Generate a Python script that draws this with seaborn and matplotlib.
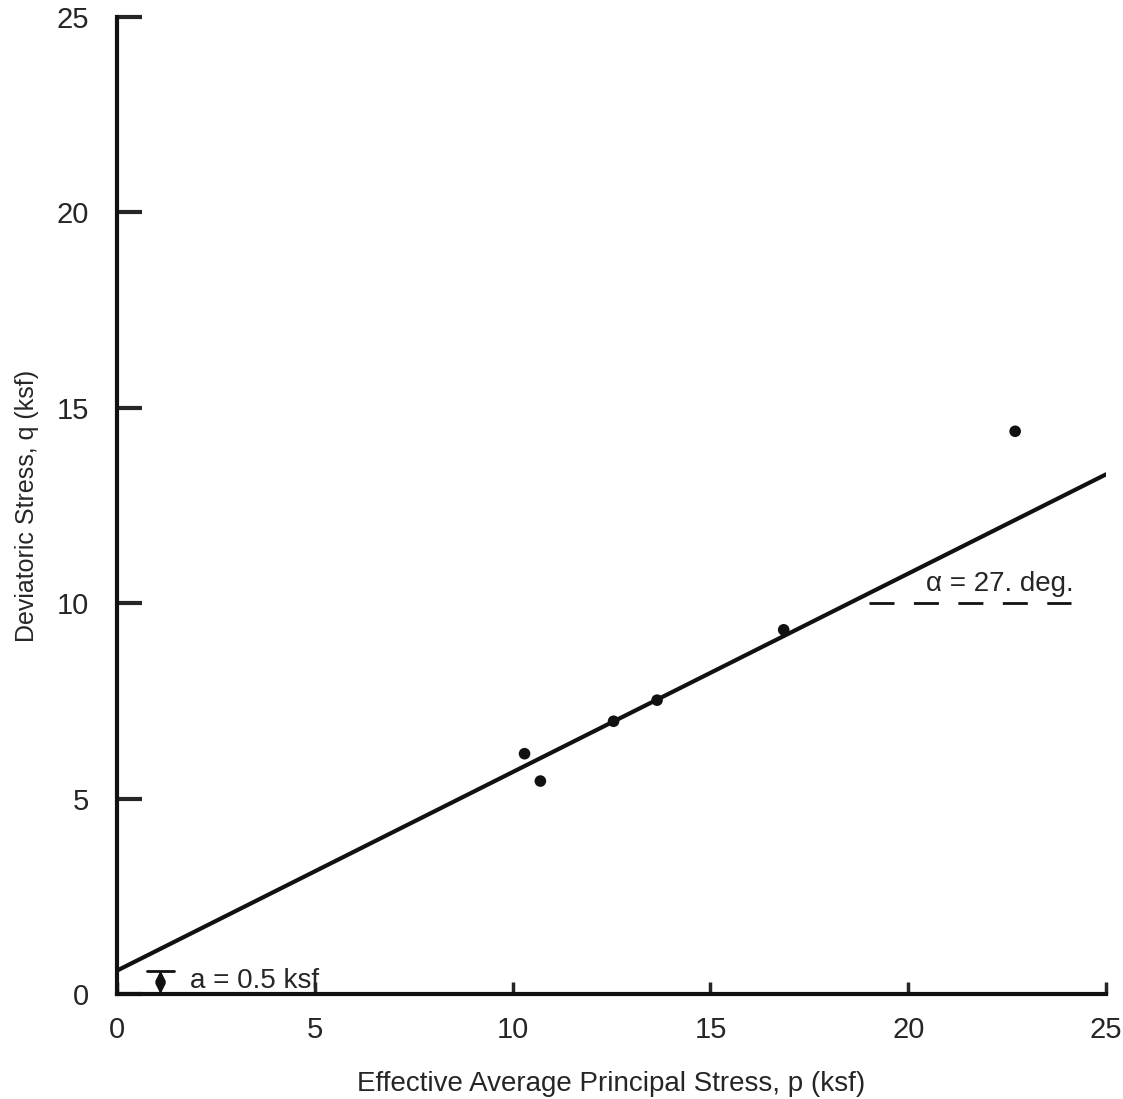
import numpy as np
import pandas as pd
import seaborn as sns
import matplotlib.pyplot as plt

# measured points (p, q) in ksf
p_vals = [10.3, 10.7, 12.55, 13.65, 16.85, 22.7]
q_vals = [6.15, 5.45, 6.98, 7.52, 9.32, 14.4]

# failure envelope: q = a + p * tan(alpha)
fit_p = [0, 25]
fit_q = [0.6, 13.3]

# horizontal reference for the angle
ref_p = [19.0, 24.1]
ref_q = [10.0, 10.0]

ticks = [0, 5, 10, 15, 20, 25]

sns.set_style("ticks")
plt.rcParams['font.family'] = ['Liberation Sans', 'DejaVu Sans']

fig = plt.figure(figsize=(11.23, 10.99), dpi=100)
ax = fig.add_axes([0.1042, 0.0955, 0.8808, 0.889])

df = pd.DataFrame({"p": p_vals, "q": q_vals})
fit = pd.DataFrame({"p": fit_p, "q": fit_q})
ref = pd.DataFrame({"p": ref_p, "q": ref_q})

sns.lineplot(data=fit, x="p", y="q", color="#111111", linewidth=3, ax=ax)
sns.lineplot(data=ref, x="p", y="q", color="#111111", linewidth=2,
             ax=ax).lines[-1].set_dashes([9, 7])
sns.scatterplot(data=df, x="p", y="q", color="#111111", s=70,
                edgecolor="none", ax=ax, zorder=3)

ax.set_xlim(0, 25)
ax.set_ylim(0, 25)
ax.set_xticks(ticks)
ax.set_yticks(ticks)
sns.despine(ax=ax)
for s in ["left", "bottom"]:
    ax.spines[s].set_linewidth(3)
    ax.spines[s].set_color("#111111")
ax.tick_params(axis="y", direction="in", length=18, width=3, labelsize=21, pad=20)
ax.tick_params(axis="x", direction="in", length=9, width=2.5, labelsize=21, pad=16)

ax.set_xlabel("Effective Average Principal Stress, p (ksf)", fontsize=20, labelpad=19)
ax.set_ylabel("Deviatoric Stress, q (ksf)", fontsize=18, labelpad=13)

# intercept marker
ax.plot([0.75, 1.45], [0.6, 0.6], color="#111111", linewidth=2)
ax.annotate("", xy=(1.1, 0.0), xytext=(1.1, 0.6),
            arrowprops=dict(arrowstyle="<|-|>", color="#111111", lw=2,
                            mutation_scale=14, shrinkA=0, shrinkB=0))
ax.text(1.85, 0.34, "a = 0.5 ksf", fontsize=20, va="center", ha="left")
ax.text(20.45, 10.5, "α = 27. deg.", fontsize=20, va="center", ha="left")

fig.savefig("out.png", dpi=100)
